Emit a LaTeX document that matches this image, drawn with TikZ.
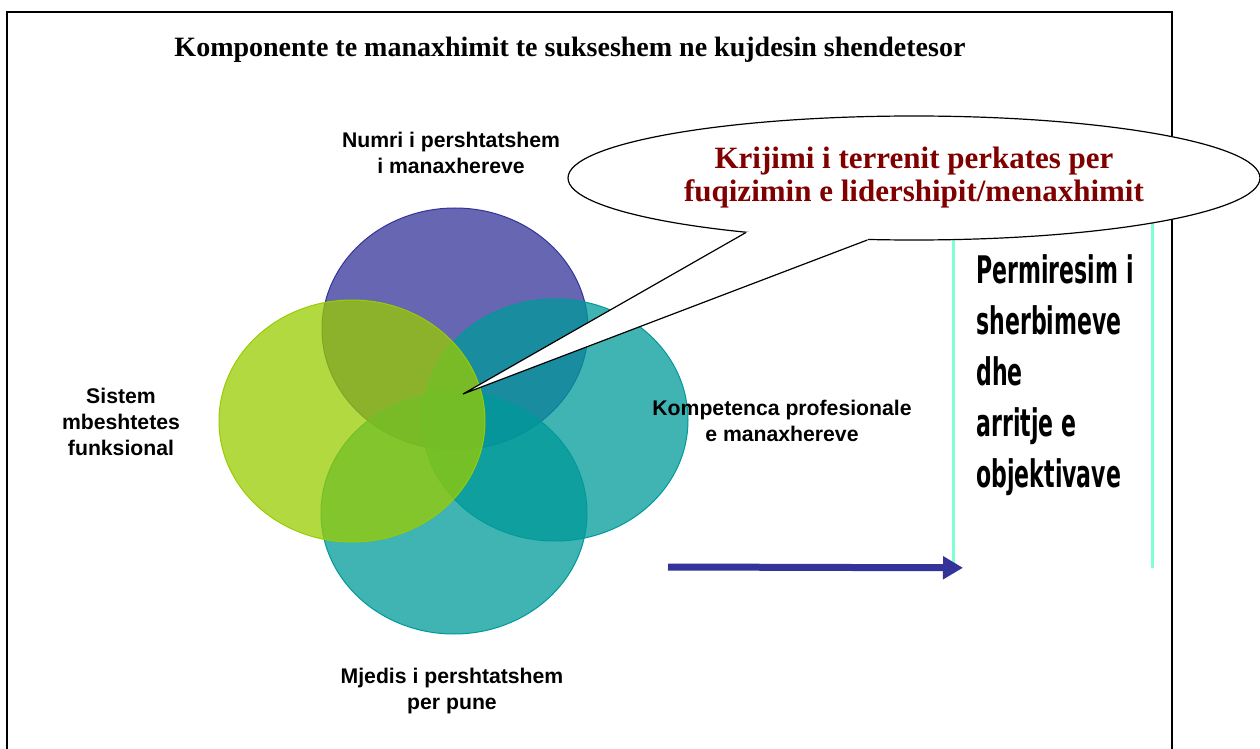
\documentclass[tikz,border=0pt]{standalone}
\usepackage{fontspec}
\setmainfont{Liberation Serif}
\setsansfont{Liberation Sans}
\newfontfamily\boxfont[FakeStretch=0.58]{DejaVu Sans Bold}
\usetikzlibrary{shapes,shapes.geometric,arrows.meta,calc,positioning}
\definecolor{vpurple}{HTML}{333399}
\definecolor{vgreen}{HTML}{99CC00}
\definecolor{vteal}{HTML}{009999}
\definecolor{calloutred}{HTML}{800000}
\definecolor{boxline}{HTML}{7FFFD4}
\tikzset{ring/.style={draw, ellipse, inner sep=0pt, minimum width=133pt, minimum height=121pt, fill opacity=0.75, line width=0.5pt}}
\tikzset{bigarrow/.style={draw=vpurple, line width=3.5pt, -{Triangle[length=10pt,width=11pt]}}}
\tikzstyle{lbl}=[font=\sffamily\bfseries\fontsize{10.6}{13}\selectfont, align=center, inner sep=0pt]

\begin{document}
\begin{tikzpicture}[x=0.5pt, y=-0.5pt]
\useasboundingbox (0,0) rectangle (1260,749);
\draw[line width=1pt] (7,760) -- (7,12) -- (1172,12) -- (1172,760);
\node[font=\bfseries\fontsize{14}{16}\selectfont, inner sep=0pt] (title) at (570,50) {Komponente te manaxhimit te sukseshem ne kujdesin shendetesor};

\node[ring, draw=vpurple, fill=vpurple] (ctop) at (455,329) {};
\node[ring, draw=vteal, fill=vteal] (cright) at (555,420) {};
\node[ring, draw=vteal, fill=vteal] (cbottom) at (454,513) {};
\node[ring, draw=vgreen, fill=vgreen] (cleft) at (352,421) {};

\node[lbl] (numri) at (451,152.5) {Numri i pershtatshem\\i manaxhereve};
\node[lbl] (sistem) at (121,421.5) {Sistem\\mbeshtetes\\funksional};
\node[lbl] (kompetenca) at (782,421) {Kompetenca profesionale\\e manaxhereve};
\node[lbl] (mjedis) at (452,691.5) {Mjedis i pershtatshem\\per pune};

\node[anchor=north west, minimum width=99.5pt, minimum height=181pt, inner sep=0pt, fill=white] (result) at (953,205) {};
\draw[boxline, line width=1.5pt] (result.north west) -- (result.south west) (result.north east) -- (result.south east);
\node[anchor=north west, inner sep=0pt, align=left, font=\boxfont\fontsize{19}{25.5}\selectfont] (resulttext) at (976,254) {Permiresim i\\sherbimeve\\dhe\\arritje e\\objektivave};

\coordinate (arrowstart) at (668,567);
\draw[bigarrow] (arrowstart) -- ([xshift=5pt]result.south west);

\node[ellipse, draw, fill=white, line width=0.6pt, minimum width=346pt, minimum height=62pt, inner sep=0pt, align=center, text=calloutred, font=\bfseries\fontsize{15.5}{16.5}\selectfont] (callout) at (914,178) {Krijimi i terrenit perkates per\\fuqizimin e lidershipit/menaxhimit};
\coordinate (tip) at (463,394);
\fill[white] (tip) -- (callout.198) -- ($(callout.198)!0.12!(callout.center)$) -- ($(callout.233)!0.12!(callout.center)$) -- (callout.233) -- cycle;
\draw[line width=0.6pt] (callout.198) -- (tip) -- (callout.233);
\end{tikzpicture}
\end{document}
